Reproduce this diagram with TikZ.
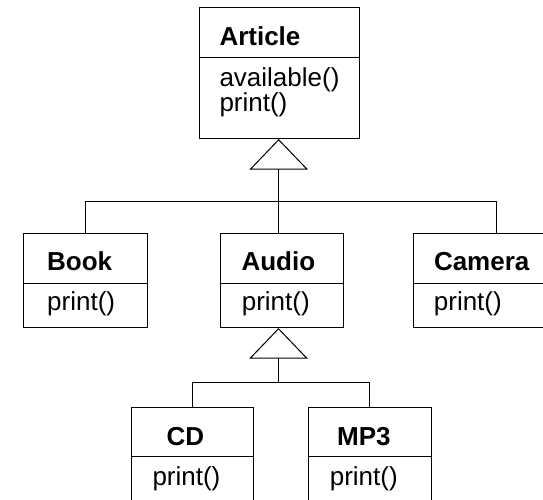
\documentclass[tikz,border=0pt]{standalone}
\usepackage{fontspec}
\setmainfont{Liberation Sans}
\usetikzlibrary{arrows.meta}
\begin{document}
\begin{tikzpicture}[x=1pt, y=-1pt, line width=1pt,
  classbox/.style={draw, rectangle, inner sep=0pt, anchor=north west},
  classname/.style={font=\fontsize{26}{30}\selectfont\bfseries, anchor=base west, inner sep=0pt},
  method/.style={font=\fontsize{26}{30}\selectfont, anchor=base west, inner sep=0pt},
  inherit/.style={-{Triangle[open, length=30.5pt, width=58.3pt]}},
]
\useasboundingbox (0,0) rectangle (543,500);
\clip (0,0) rectangle (543,500);

% class boxes
\node[classbox, minimum width=159.5pt, minimum height=130.7pt] (article) at (199,7.3) {};
\node[classbox, minimum width=123.5pt, minimum height=93.7pt] (book) at (23.3,233.3) {};
\node[classbox, minimum width=123pt, minimum height=93.7pt] (audio) at (219.5,233.3) {};
\node[classbox, minimum width=165pt, minimum height=93.7pt] (camera) at (413,233.3) {};
\node[classbox, minimum width=122.5pt, minimum height=110pt] (cd) at (130.7,406.7) {};
\node[classbox, minimum width=122.7pt, minimum height=110pt] (mp3) at (308,406.7) {};

% compartment dividers
\draw (article.west |- 0,57.5) -- (article.east |- 0,57.5);
\foreach \b in {book,audio,camera}
  \draw (\b.west |- 0,283) -- (\b.east |- 0,283);
\foreach \b in {cd,mp3}
  \draw (\b.west |- 0,456.5) -- (\b.east |- 0,456.5);

% class names
\node[classname] (t-article) at (219,46) {Article};
\node[classname] (t-book) at (46.7,270) {Book};
\node[classname] (t-audio) at (241,270) {Audio};
\node[classname] (t-camera) at (433.5,270) {Camera};
\node[classname] (t-cd) at (166,445) {CD};
\node[classname] (t-mp3) at (336.7,445) {MP3};

% operations
\node[method] (m-article1) at (219,86.7) {available()};
\node[method] (m-article2) at (219,111.7) {print()};
\node[method] (m-book) at (46.7,310.7) {print()};
\node[method] (m-audio) at (241.3,310.7) {print()};
\node[method] (m-camera) at (433.4,310.7) {print()};
\node[method] (m-cd) at (152,485.5) {print()};
\node[method] (m-mp3) at (329.3,485.5) {print()};

% generalization: Book, Audio, Camera -> Article
\coordinate (j1) at (278.7,201.5);
\draw[inherit] (j1) -- (article.south -| j1);
\draw (book.north) |- (j1) -| (camera.north);
\draw (j1) -- (j1 |- audio.north);

% generalization: CD, MP3 -> Audio
\coordinate (j2) at (278.5,382.3);
\draw[inherit] (j2) -- (audio.south -| j2);
\draw (cd.north) |- (j2) -| (mp3.north);
\end{tikzpicture}
\end{document}
